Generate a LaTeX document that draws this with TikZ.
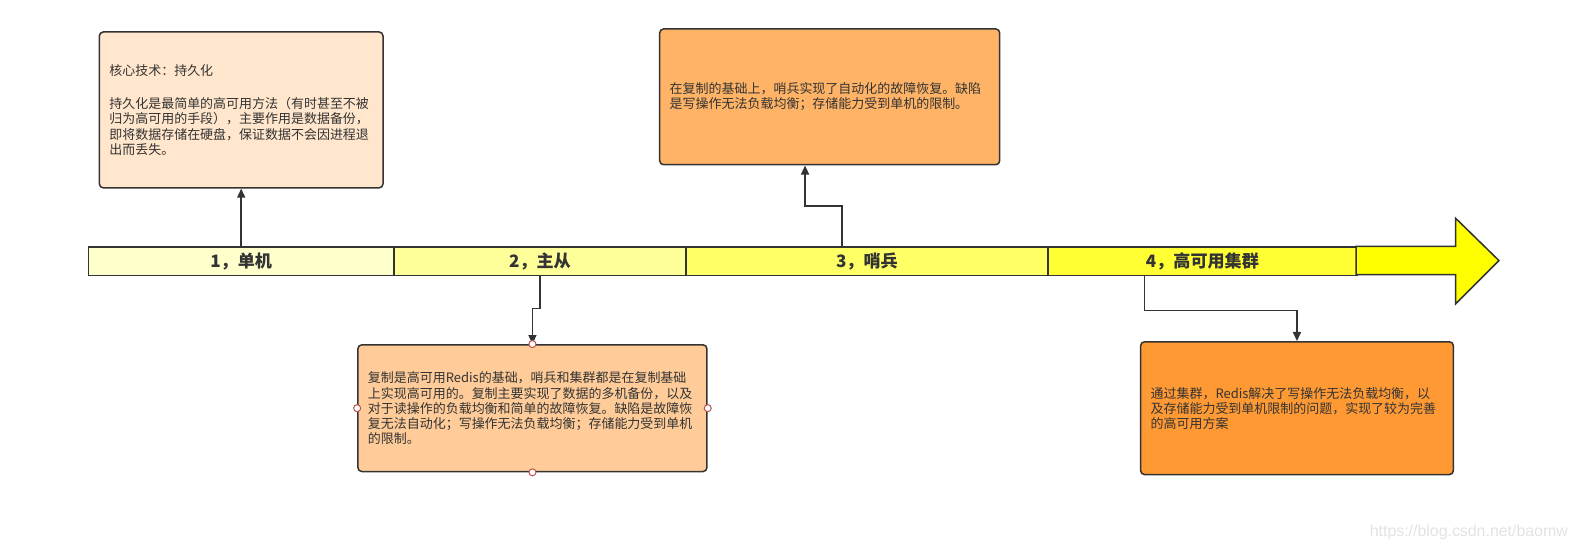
\documentclass[tikz,border=0pt]{standalone}
\usepackage{fontspec}
\setmainfont{Noto Sans CJK SC}
\newfontfamily\wmfont{Liberation Sans}
\usetikzlibrary{arrows.meta,calc}
\definecolor{ink}{HTML}{333333}
\definecolor{fA}{HTML}{FFE6CC}
\definecolor{fB}{HTML}{FFB366}
\definecolor{fC}{HTML}{FFCC99}
\definecolor{fD}{HTML}{FF9933}
\definecolor{s1c}{HTML}{FFFFCC}
\definecolor{s2c}{HTML}{FFFF99}
\definecolor{s3c}{HTML}{FFFF66}
\definecolor{s4c}{HTML}{FFFF33}
\definecolor{s5c}{HTML}{FFFF00}
\definecolor{handlec}{HTML}{B85450}
\definecolor{wm}{HTML}{E3E3E3}
\begin{document}
\begin{tikzpicture}[x=1pt,y=-1pt,
  box/.style={draw=ink, line width=1.5pt, rounded corners=4pt, anchor=north west,
    inner xsep=10pt, inner ysep=0pt, align=left, text=ink,
    font=\fontsize{12.9}{15}\selectfont},
  seg/.style={draw=ink, line width=1.5pt, anchor=north west, minimum height=28pt,
    inner sep=0pt, text=ink, font=\bfseries\fontsize{17}{20}\selectfont},
  conn/.style={draw=ink, line width=1.5pt, -{Triangle[length=9pt,width=8pt]}},
  handle/.style={circle, draw=handlec, fill=white, inner sep=0pt, minimum size=7pt, line width=1pt}]
\useasboundingbox[fill=white] (0,0) rectangle (1568.6,546.7);

% timeline
\node[seg, fill=s1c, minimum width=304pt] (s1) at (87,245) {1，单机};
\node[seg, fill=s2c, minimum width=290pt] (s2) at (391,245) {2，主从};
\node[seg, fill=s3c, minimum width=360pt] (s3) at (681,245) {3，哨兵};
\node[seg, fill=s4c, minimum width=307pt] (s4) at (1041,245) {4，高可用集群};
\draw[draw=ink, fill=s5c, line width=1.5pt, line join=miter]
  (1348,245) -- (1447,245) -- (1447,217) -- (1490,259) -- (1447,302) -- (1447,273) -- (1348,273) -- cycle;

% boxes
\node[box, fill=fA, text width=262pt, minimum height=155pt] (b1) at (98,31)
 {核心技术：持久化\\[18pt]持久化是最简单的高可用方法（有时甚至不被\\归为高可用的手段），主要作用是数据备份，\\即将数据存储在硬盘，保证数据不会因进程退\\出而丢失。};
\node[box, fill=fB, text width=318pt, minimum height=135pt] (b2) at (655,28)
 {在复制的基础上，哨兵实现了自动化的故障恢复。缺陷\\是写操作无法负载均衡；存储能力受到单机的限制。};
\node[box, fill=fC, text width=327pt, minimum height=126pt] (b3) at (355,342)
 {复制是高可用Redis的基础，哨兵和集群都是在复制基础\\上实现高可用的。复制主要实现了数据的多机备份，以及\\对于读操作的负载均衡和简单的故障恢复。缺陷是故障恢\\复无法自动化；写操作无法负载均衡；存储能力受到单机\\的限制。};
\node[box, fill=fD, text width=291pt, minimum height=132pt] (b4) at (1133,339)
 {通过集群，Redis解决了写操作无法负载均衡，以\\及存储能力受到单机限制的问题，实现了较为完善\\的高可用方案};

% connectors
\draw[conn] (s1.north) -- (b1.south);
\draw[conn] ([xshift=-25pt]s3.north) -- ++(0,-40) -| ([xshift=-24.5pt]b2.south);
\draw[conn] (s2.south) -- ++(0,32) -| (b3.north);
\draw[conn] ([xshift=-57.5pt]s4.south) -- ++(0,34) -| (b4.north);

% selection handles
\node[handle] (h1) at (b3.north) {};
\node[handle] (h2) at (b3.south) {};
\node[handle] (h3) at (b3.west) {};
\node[handle] (h4) at (b3.east) {};

% watermark
\node[anchor=east, text=wm, font=\wmfont\fontsize{15.8}{18}\selectfont, inner sep=0pt] (wm) at (1558.6,528.8) {https://blog.csdn.net/baomw};
\end{tikzpicture}
\end{document}
